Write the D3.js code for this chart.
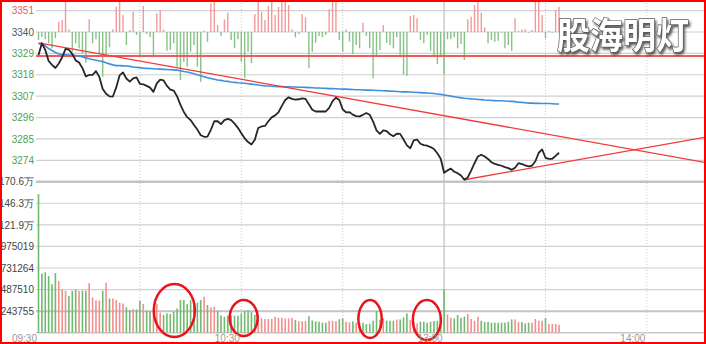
<!DOCTYPE html>
<html><head><meta charset="utf-8">
<script src="https://cdn.jsdelivr.net/npm/d3@7"></script>
<style>
html,body{margin:0;padding:0;background:#fff;}
svg{display:block;}
</style></head><body>
<svg id="chart" width="706" height="344"></svg>
<script>
// ---------- DATA ----------
const priceTicks = [3351, 3340, 3329, 3318, 3307, 3296, 3285, 3274];
const priceTickLabels = ["3351", "3340", "3329", "3318", "3307", "3296", "3285", "3274"];
const prevClose = 3340;
const priceBottom = 3263;
// volume in thousands
const volumeTicks = [243.755, 487.510, 731.264, 975.019, 1218.774, 1462.529, 1706.285];
const volumeTickLabels = ["243755", "487510", "731264", "975019", "121.9万", "146.3万", "170.6万"];
const timeTicks = [0, 60, 120, 180];
const timeTickLabels = ["09:30", "10:30", "13:00", "14:00"];
const dottedGridMinutes = [30, 60, 90, 150, 180];
const sessionBreakMinute = 120;

const prices = [
 3328.2,3334.2,3330.8,3325.1,3323.1,3321.5,3323.8,3327.0,3331.3,3330.9,
 3328.7,3325.4,3324.3,3321.4,3317.2,3317.9,3317.9,3319.9,3316.9,3310.7,
 3308.2,3306.9,3306.8,3311.5,3317.7,3319.2,3316.1,3314.5,3316.2,3316.7,
 3313.3,3313.1,3312.3,3311.4,3309.2,3313.6,3315.5,3315.1,3312.3,3310.4,
 3309.9,3306.9,3302.5,3298.9,3296.2,3294.7,3292.2,3289.8,3286.9,3286.1,
 3286.2,3289.7,3294.1,3294.1,3292.6,3294.7,3295.3,3294.7,3292.9,3290.7,
 3287.9,3285.3,3283.4,3282.1,3284.6,3290.6,3291.4,3291.7,3294.1,3296.1,
 3297.1,3298.7,3302.0,3305.0,3306.4,3305.6,3305.2,3305.4,3305.9,3305.6,
 3302.8,3300.0,3299.1,3299.1,3299.1,3299.1,3301.0,3304.4,3306.2,3305.0,
 3300.2,3298.7,3298.8,3297.5,3296.7,3296.6,3297.4,3298.3,3297.4,3293.9,
 3289.4,3287.6,3289.4,3289.0,3287.4,3286.4,3287.7,3287.6,3284.7,3281.7,
 3280.2,3284.3,3284.7,3282.5,3281.8,3281.5,3280.8,3279.8,3277.6,3274.8,
 3267.6,3268.8,3269.7,3268.1,3267.4,3266.2,3264.0,3265.2,3268.7,3272.5,
 3276.0,3276.9,3276.0,3274.7,3273.0,3272.2,3271.7,3271.2,3270.5,3270.0,
 3269.1,3270.2,3272.5,3272.1,3271.4,3270.9,3271.2,3273.5,3277.9,3279.6,
 3275.3,3274.7,3274.8,3276.3,3277.9
];
const avgPrices = [
 3333.8,3334.1,3332.8,3331.5,3330.5,3329.5,3328.7,3328.4,3328.3,3328.2,3328.1,3327.9,3327.7,3327.2,3326.7,3326.2,
 3325.9,3325.5,3325.1,3324.8,3324.2,3323.6,3323.1,3322.7,3322.7,3322.6,3322.5,3322.3,3322.0,3321.8,3321.6,3321.4,
 3321.3,3321.2,3321.1,3321.0,3320.9,3320.8,3320.7,3320.6,3320.5,3320.4,3320.1,3319.7,3319.4,3319.0,3318.5,3318.0,
 3317.5,3317.0,3316.5,3316.1,3315.7,3315.3,3315.1,3314.8,3314.6,3314.3,3314.1,3313.9,3313.8,3313.6,3313.4,3313.2,
 3313.0,3312.7,3312.5,3312.3,3312.2,3312.1,3312.0,3311.9,3311.9,3311.8,3311.8,3311.7,3311.7,3311.6,3311.6,3311.5,
 3311.4,3311.3,3311.2,3311.2,3311.1,3311.0,3310.9,3310.9,3310.8,3310.7,3310.6,3310.6,3310.5,3310.4,3310.3,3310.3,
 3310.2,3310.1,3310.1,3310.0,3309.9,3309.9,3309.8,3309.7,3309.6,3309.5,3309.4,3309.3,3309.2,3309.2,3309.1,3309.0,
 3308.9,3308.8,3308.7,3308.6,3308.5,3308.4,3308.1,3307.9,3307.6,3307.3,3307.0,3306.7,3306.4,3306.1,3305.9,3305.8,
 3305.6,3305.5,3305.3,3305.2,3305.0,3304.9,3304.8,3304.7,3304.6,3304.6,3304.5,3304.4,3304.3,3304.2,3303.9,3303.8,
 3303.6,3303.4,3303.4,3303.3,3303.3,3303.2,3303.2,3303.2,3303.1,3303.0,3303.0
];
const volumes = [
 1565,669,683,640,547,674,583,489,471,414,
 471,489,471,474,474,561,397,367,363,474,
 564,387,387,369,339,331,286,256,267,263,
 361,324,248,245,282,331,226,200,218,211,
 237,274,369,369,324,369,350,339,369,406,
 313,286,293,248,195,181,192,192,192,192,
 218,248,256,237,203,200,161,155,155,155,
 181,169,169,161,161,169,143,130,130,132,
 186,139,128,124,113,113,133,135,130,152,
 161,124,118,128,113,118,113,98,102,135,
 243,147,161,135,135,135,150,150,173,218,
 143,124,105,124,124,113,124,132,135,143,
 489,207,169,161,200,167,181,211,155,135,
 181,135,121,121,113,113,113,113,113,124,
 150,150,121,121,105,113,113,155,135,135,
 166,98,98,98,90
];
// r = up minute (red), g = down minute (green)
const volumeDir = ("gggggg rrr ggg r gg rrrr g r g rrrr gg r gg r gg rrr gggggggggggg r g rr " +
  "gggggggggggg rrrrrrrrrrr g rrr gggggg rrr gg rr g rr ggggg rr ggg r ggg rrr gggggggg " +
  "rr gggg rrrr gggggggggg rr ggg rrrr g rrrr").replace(/ /g, "");
// buy/sell strength bars around the previous-close line
const strength = [
 -8,-5.3,-7.3,-11.3,-16.3,-6.3,10.3,12,36,2.7,
 -19.7,-11.3,-16.3,-22,-30.7,12.7,-11.3,-7.3,-21.3,-44.7,
 -23,-15.3,2.7,25.3,36,17,-13,2,20.3,-3,
 -23,26,-2,-5.3,-25.3,18.7,22,2.7,-18.7,-18,
 -11.3,-34.7,-48,-29.7,-34.7,-19.7,-13,-34.7,-49.7,1.3,
 -9.7,28.7,36,7,-4,12.7,19.3,-8,-16.3,-7.3,
 -29.7,-46.3,-19.7,-31.3,18,36,20,12,26,36,
 17,25,36,36,27,2.7,-5.3,-2,18,14.7,
 -36.3,-19.7,-10.7,-4,-5.3,-3,22.7,36,36,-8,
 -19.7,2.7,-9.7,-22,-13,-16.3,9.3,-4,-16.3,-46.3,
 -23,-18,7,-10.7,-13,-16.3,-5.3,-25.3,-43,-44,
 16,17,13.7,-8,-11.3,-3,-18.7,-24,-32,-23,
 -42,-7.3,-7.3,-5.3,-16.3,-12,-28,12.7,15.3,27,
 36,19.3,4.7,-11.3,-8,-9.7,-8.7,-0.7,-16.3,-13,
 -18.7,13.7,1.3,2.7,2.7,-0.7,2,36,36,17,
 -6.3,1.3,-0.7,22,25.3
];
const supportLevel = 3327.7;
const trendLineA = [[0, 3334.4], [200, 3272.0]];
const trendLineB = [[126, 3264.0], [200, 3286.7]];
// annotation ellipses in (minute, volume) units
const circleMarks = [
  {m: 40.2, v: 250.5, rm: 6.07, rv: 299},
  {m: 60.7, v: 165.9, rm: 4.14, rv: 203},
  {m: 98.1, v: 154.6, rm: 3.46, rv: 214},
  {m: 114.9, v: 143.3, rm: 4.14, rv: 226}
];
const watermark = "股海明灯";

// ---------- CHART ----------
const W = 706, H = 344;
const svg = d3.select("#chart");
const FONT = "'Liberation Sans', Arial, sans-serif";

const x = d3.scaleLinear().domain([0, 240]).range([38.5, 38.5 + 3.38 * 240]);
const yP = d3.scaleLinear().domain([priceBottom, prevClose]).range([181.7, 32]);
const yV = d3.scaleLinear().domain([0, volumeTicks[volumeTicks.length - 1]]).range([332.7, 181.7]);
const y0 = yP(prevClose);
const yS = d3.scaleLinear().domain([-50, 50]).range([y0 + 50, y0 - 50]);

const defs = svg.append("defs");
const f = defs.append("filter").attr("id", "wmShadow").attr("x", "-10%").attr("y", "-10%").attr("width", "130%").attr("height", "140%");
f.append("feDropShadow").attr("dx", 1.5).attr("dy", 2).attr("stdDeviation", 1.2)
  .attr("flood-color", "#222").attr("flood-opacity", 0.75);

svg.append("rect").attr("width", W).attr("height", H).attr("fill", "#ffffff");

const left = 36;
// horizontal grid - price
const grid = svg.append("g");
grid.selectAll(".pg").data(priceTicks).join("line")
  .attr("x1", left).attr("x2", W).attr("y1", d => yP(d)).attr("y2", d => yP(d))
  .attr("stroke", "#d0d0d0").attr("stroke-width", 1.2);
// volume grid
grid.selectAll(".vg").data(volumeTicks).join("line")
  .attr("x1", left).attr("x2", W).attr("y1", d => yV(d)).attr("y2", d => yV(d))
  .attr("stroke", (d, i) => (i === 0 || i === volumeTicks.length - 1) ? "#c4c4c4" : "#d0d0d0")
  .attr("stroke-width", (d, i) => (i === volumeTicks.length - 1) ? 2.5 : (i === 0 ? 2 : 1.2));
grid.append("line").attr("x1", left).attr("x2", W).attr("y1", yV(0)).attr("y2", yV(0))
  .attr("stroke", "#c8c8c8").attr("stroke-width", 1.5);
// vertical grid
grid.selectAll(".vd").data(dottedGridMinutes).join("line")
  .attr("x1", d => x(d)).attr("x2", d => x(d)).attr("y1", 0).attr("y2", yV(0))
  .attr("stroke", "#c8c8c8").attr("stroke-width", 1).attr("stroke-dasharray", "1,2");
grid.append("line").attr("x1", x(sessionBreakMinute)).attr("x2", x(sessionBreakMinute))
  .attr("y1", 0).attr("y2", yV(0)).attr("stroke", "#c4c4c4").attr("stroke-width", 1.3);

// strength bars
svg.append("g").selectAll("line").data(strength).join("line")
  .attr("x1", (d, i) => x(i)).attr("x2", (d, i) => x(i))
  .attr("y1", yS(0)).attr("y2", d => yS(d))
  .attr("stroke", d => d >= 0 ? "#f29a9a" : "#86c286").attr("stroke-width", 1.4);

// support horizontal line
svg.append("line").attr("x1", left).attr("x2", W)
  .attr("y1", yP(supportLevel)).attr("y2", yP(supportLevel))
  .attr("stroke", "#f25a5a").attr("stroke-width", 2);

// average price line
svg.append("path").datum(avgPrices)
  .attr("d", d3.line().x((d, i) => x(i)).y(d => yP(d)))
  .attr("fill", "none").attr("stroke", "#3d90de").attr("stroke-width", 1.6);

// trend lines
const tl = d3.line().x(d => x(d[0])).y(d => yP(d[1]));
[trendLineA, trendLineB].forEach(t => {
  svg.append("path").datum(t).attr("d", tl).attr("fill", "none")
    .attr("stroke", "#f23a3a").attr("stroke-width", 1.3);
});

// price line
svg.append("path").datum(prices)
  .attr("d", d3.line().x((d, i) => x(i)).y(d => yP(d)))
  .attr("fill", "none").attr("stroke", "#262626").attr("stroke-width", 1.8)
  .attr("stroke-linejoin", "round");

// volume bars
svg.append("g").selectAll("rect").data(volumes).join("rect")
  .attr("x", (d, i) => x(i) - 0.8).attr("width", 1.6)
  .attr("y", d => yV(d)).attr("height", d => yV(0) - yV(d))
  .attr("fill", (d, i) => volumeDir[i] === "r" ? "#f38f8f" : "#6fba6f");

// annotation ellipses
svg.append("g").selectAll("ellipse").data(circleMarks).join("ellipse")
  .attr("cx", d => x(d.m)).attr("cy", d => yV(d.v))
  .attr("rx", d => x(d.m + d.rm) - x(d.m)).attr("ry", d => yV(0) - yV(d.rv))
  .attr("fill", "none").attr("stroke", "#e8141b").attr("stroke-width", 2.5);

// price axis
const gP = svg.append("g").attr("transform", "translate(34,0)")
  .call(d3.axisLeft(yP).tickValues(priceTicks).tickFormat((d, i) => priceTickLabels[i]).tickSize(0).tickPadding(0));
gP.select(".domain").remove();
gP.selectAll("text").attr("font-family", FONT).attr("font-size", 10)
  .attr("fill", d => d > prevClose ? "#e25c5c" : (d === prevClose ? "#555" : "#4f9f4f"));

// volume axis
const gV = svg.append("g").attr("transform", "translate(34,0)")
  .call(d3.axisLeft(yV).tickValues(volumeTicks).tickFormat((d, i) => volumeTickLabels[i]).tickSize(0).tickPadding(0));
gV.select(".domain").remove();
gV.selectAll("text").attr("font-family", FONT).attr("font-size", 10).attr("fill", "#444");

// time axis
const gT = svg.append("g").attr("transform", `translate(0,${yV(0)})`)
  .call(d3.axisBottom(x).tickValues(timeTicks).tickFormat((d, i) => timeTickLabels[i]).tickSize(0).tickPadding(2.5));
gT.select(".domain").remove();
gT.selectAll("text").attr("font-family", FONT).attr("font-size", 10).attr("fill", "#9a9a9a")
  .attr("text-anchor", "end").attr("dx", -2);

// watermark
svg.append("text").text(watermark)
  .attr("transform", "translate(557,49) scale(1,1.1)")
  .attr("font-family", "'Noto Sans CJK SC', sans-serif").attr("font-weight", 700)
  .attr("font-size", 33).attr("fill", "#ffffff").attr("stroke", "#5a5a5a").attr("stroke-width", 1.3)
  .attr("paint-order", "stroke").attr("filter", "url(#wmShadow)");

// border
svg.append("rect").attr("x", 1).attr("y", 1).attr("width", W - 2).attr("height", H - 2)
  .attr("fill", "none").attr("stroke", "#ff0000").attr("stroke-width", 2);
</script>
</body></html>
